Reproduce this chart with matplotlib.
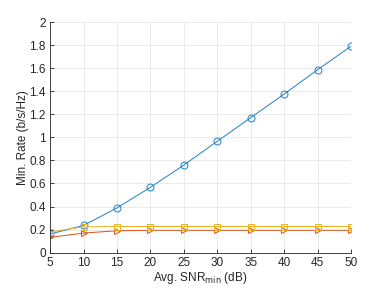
import matplotlib
matplotlib.use("Agg")
import matplotlib.pyplot as plt

snr = [5, 10, 15, 20, 25, 30, 35, 40, 45, 50]
rate_blue = [0.162, 0.236, 0.388, 0.567, 0.760, 0.966, 1.171, 1.376, 1.587, 1.790]
rate_orange = [0.133, 0.170, 0.190, 0.194, 0.194, 0.194, 0.194, 0.194, 0.194, 0.194]
rate_yellow = [0.180, 0.224, 0.227, 0.227, 0.227, 0.227, 0.227, 0.227, 0.227, 0.227]

xticks = [5, 10, 15, 20, 25, 30, 35, 40, 45, 50]
yticks = [0, 0.2, 0.4, 0.6, 0.8, 1, 1.2, 1.4, 1.6, 1.8, 2]
yticklabels = ["0", "0.2", "0.4", "0.6", "0.8", "1", "1.2", "1.4", "1.6", "1.8", "2"]

plt.rcParams['font.family'] = ['Liberation Sans', 'DejaVu Sans']
fig = plt.figure(figsize=(3.88, 2.88), dpi=100)
ax = fig.add_axes([0.129, 0.1226, 0.776, 0.801])

ax.plot(snr, rate_blue, color='#1f80c4', marker='o', markerfacecolor='none',
        markersize=5, linewidth=0.7, markeredgewidth=0.7)
ax.plot(snr, rate_orange, color='#D95319', marker='>', markerfacecolor='none',
        markersize=5, linewidth=0.7, markeredgewidth=0.7)
ax.plot(snr, rate_yellow, color='#EDB120', marker='s', markerfacecolor='none',
        markersize=5, linewidth=0.7, markeredgewidth=0.7)

ax.set_xlim(5, 50)
ax.set_ylim(0, 2)
ax.set_xticks(xticks)
ax.set_yticks(yticks)
ax.set_yticklabels(yticklabels)
ax.grid(True, color='#e8e8e8', linewidth=0.6)
ax.set_axisbelow(True)
for s in ['top', 'right']:
    ax.spines[s].set_visible(False)
for s in ['left', 'bottom']:
    ax.spines[s].set_color('#262626')
    ax.spines[s].set_linewidth(0.6)
ax.tick_params(direction='in', length=3, width=0.6, colors='#262626', labelsize=8.5, pad=3)
ax.set_xlabel('Avg. SNR$_{\\mathrm{min}}$ (dB)', fontsize=8.5, color='#262626', labelpad=1)
ax.set_ylabel('Min. Rate (b/s/Hz)', fontsize=8.5, color='#262626', labelpad=0)

fig.savefig('out.png', dpi=100)
